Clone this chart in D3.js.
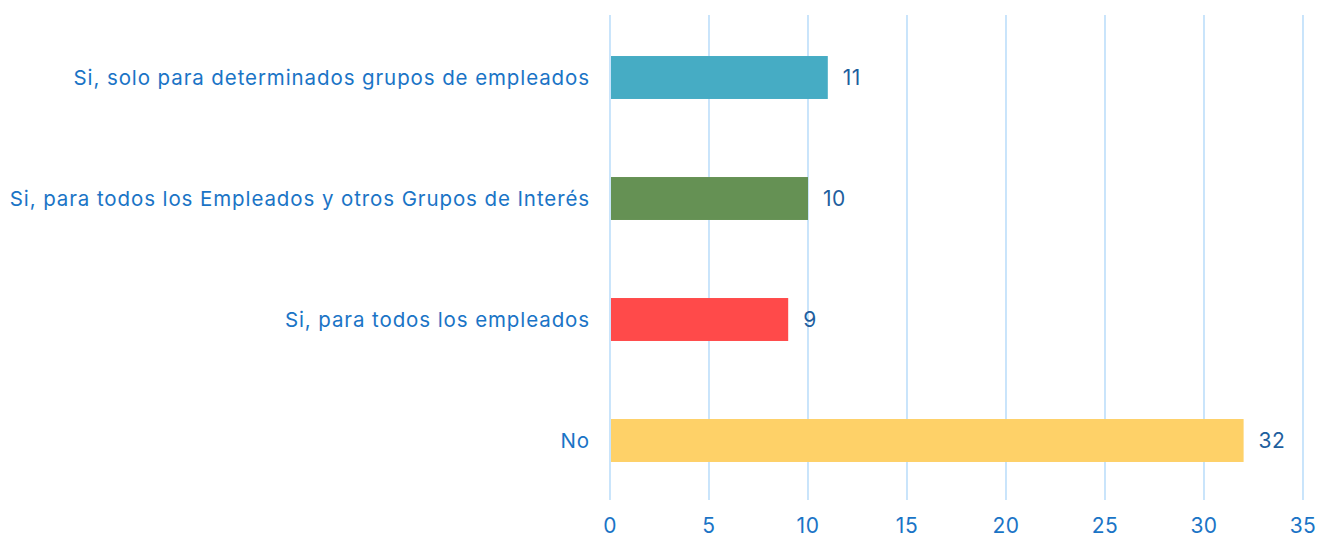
<!DOCTYPE html>
<html><head><meta charset="utf-8">
<script src="https://cdn.jsdelivr.net/npm/d3@7"></script>
<style>body{margin:0;background:#fff}svg{display:block}text{font-family:Inter, "Open Sans", sans-serif}</style>
</head><body><svg id="c" width="1318" height="540"></svg>
<script>
const categories = ["Si, solo para determinados grupos de empleados","Si, para todos los Empleados y otros Grupos de Interés","Si, para todos los empleados","No"];
const values = [11, 10, 9, 32];
const colors = ["#46ACC4","#659154","#FF4A4A","#FED168"];
const ticks = [0,5,10,15,20,25,30,35];

const svg = d3.select("#c");
const m = {l:610, r:1303, t:17, b:501};
const x = d3.scaleLinear().domain([0,35]).range([m.l, m.r]);
const y = d3.scaleBand().domain(categories).range([m.t, m.b]).paddingInner(0.645).paddingOuter(0.3225);

svg.append("g").selectAll("line").data(ticks).join("line")
  .attr("x1", d=>x(d)).attr("x2", d=>x(d)).attr("y1", 15).attr("y2", 500)
  .attr("stroke", "#c4e2fb").attr("stroke-width", 1.8);

svg.append("g").selectAll("text").data(ticks).join("text")
  .attr("x", d=>x(d)).attr("y", 526).attr("dy","0.35em").attr("text-anchor","middle")
  .attr("fill","#1a74c6").attr("font-size",21).attr("letter-spacing",0.5).text(d=>d);

svg.append("g").selectAll("rect").data(values).join("rect")
  .attr("x", x(0)+1).attr("y", (d,i)=>y(categories[i]))
  .attr("width", d=>x(d)-x(0)-1).attr("height", y.bandwidth())
  .attr("fill", (d,i)=>colors[i]);

svg.append("g").selectAll("text").data(values).join("text")
  .attr("x", d=>x(d)+15).attr("y", (d,i)=>y(categories[i])+y.bandwidth()/2).attr("dy","0.35em")
  .attr("fill","#1f5f9e").attr("font-size",21).attr("letter-spacing",0.5).text(d=>d);

svg.append("g").selectAll("text").data(categories).join("text")
  .attr("x", 590).attr("y", d=>y(d)+y.bandwidth()/2).attr("dy","0.35em").attr("text-anchor","end")
  .attr("fill","#1a74c6").attr("font-size",20.5).attr("letter-spacing",0.9).text(d=>d);
</script></body></html>
